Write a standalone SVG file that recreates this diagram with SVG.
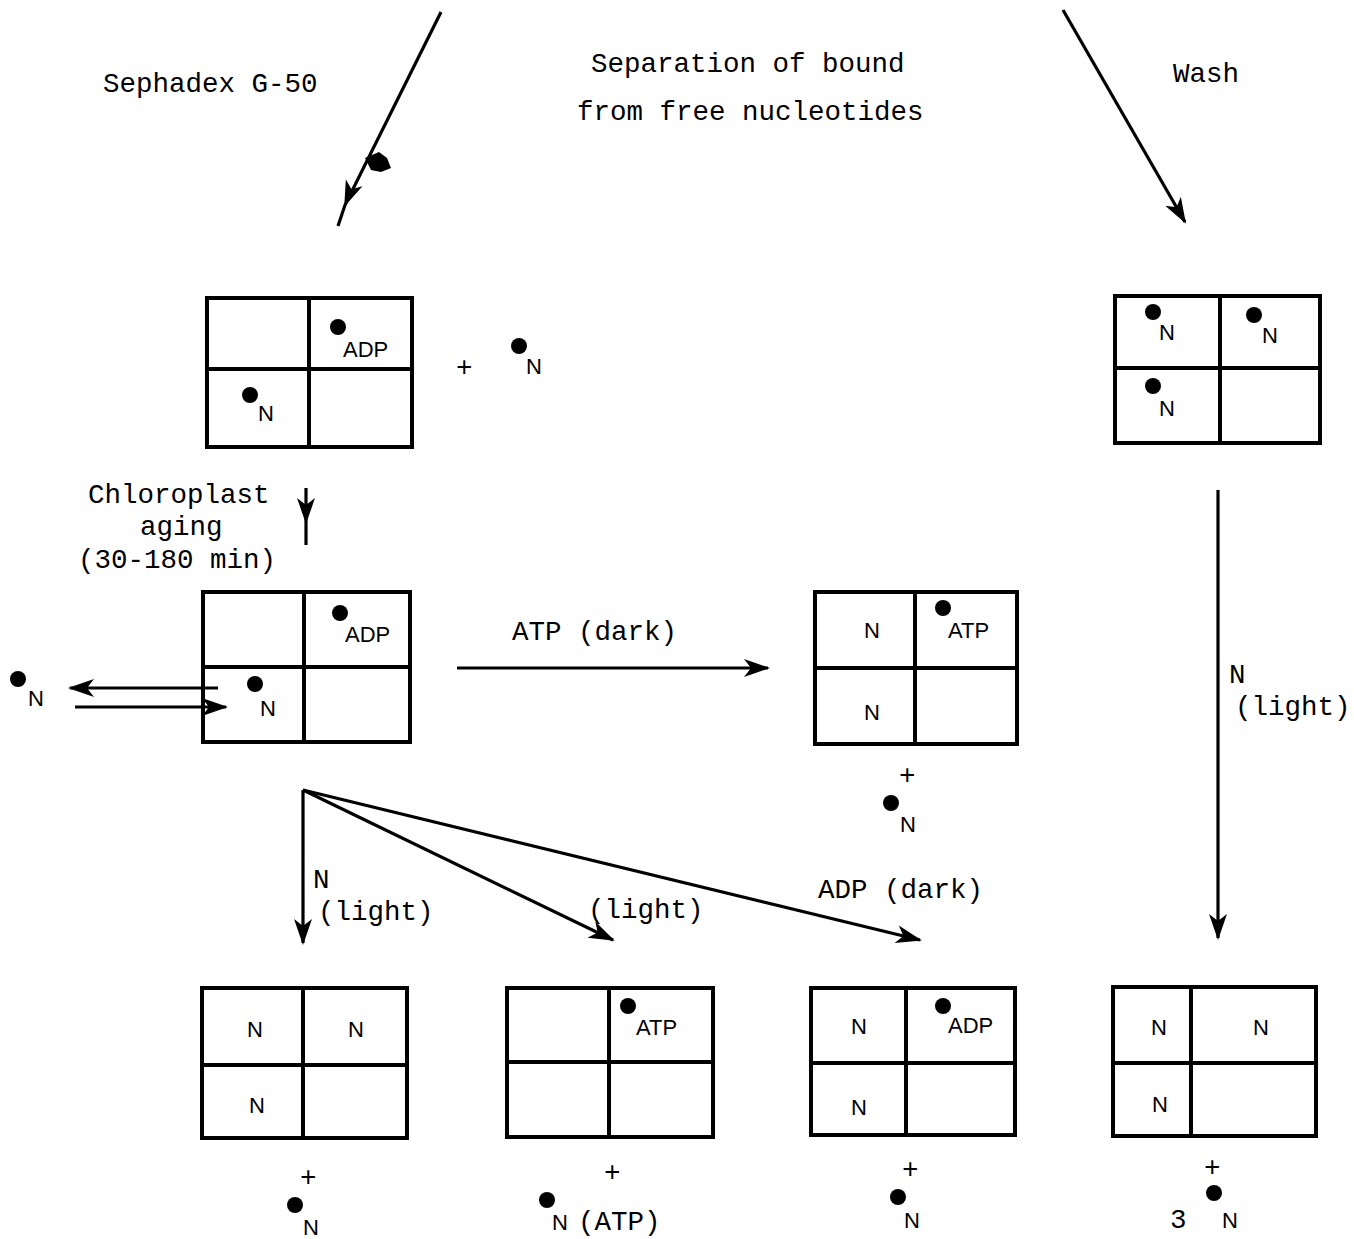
<svg xmlns="http://www.w3.org/2000/svg" width="1354" height="1239" viewBox="0 0 1354 1239">
<style>
.box{fill:none;stroke:#000;stroke-width:4}
.div{stroke:#000;stroke-width:4}
.ln{fill:none;stroke:#000;stroke-width:3.2}
.m{font-family:"Liberation Mono","DejaVu Sans Mono",monospace;font-size:27.5px;fill:#000}
.s{font-family:"Liberation Sans",Arial,sans-serif;font-size:22px;fill:#000}
.d{fill:#000}
</style>
<defs>
<marker id="ah" markerUnits="userSpaceOnUse" markerWidth="26" markerHeight="20" viewBox="0 0 26 20" refX="24" refY="10" orient="auto">
<path d="M0,1 L26,10 L0,19 L7,10 Z" fill="#000"/>
</marker>
</defs>
<rect width="1354" height="1239" fill="#fff"/>

<g id="labels">
<text class="m" x="103" y="92">Sephadex G-50</text>
<text class="m" x="591" y="72">Separation of bound</text>
<text class="m" x="577" y="120">from free nucleotides</text>
<text class="m" x="1173" y="82">Wash</text>
<text class="m" x="88" y="503">Chloroplast</text>
<text class="m" x="140" y="535">aging</text>
<text class="m" x="78" y="568">(30-180 min)</text>
<text class="m" x="512" y="640">ATP (dark)</text>
<text class="m" x="313" y="888" font-size="22">N</text>
<text class="m" x="318" y="920">(light)</text>
<text class="m" x="588" y="918">(light)</text>
<text class="m" x="818" y="898">ADP (dark)</text>
<text class="m" x="1229" y="683" font-size="18">N</text>
<text class="m" x="1235" y="715">(light)</text>
</g>

<g id="connectors">
<path class="ln" d="M441,12 L345,205 L338,226" marker-mid="url(#ah)"/>
<path d="M365,158 l14,-6 l8,6 l4,10 l-10,4 l-10,-2 z" fill="#000"/>
<path class="ln" d="M1063,10 L1185,222" marker-end="url(#ah)"/>
<path class="ln" d="M306,488 L306,522 L306,545" marker-mid="url(#ah)"/>
<path class="ln" d="M218,688 L70,688" marker-end="url(#ah)"/>
<path class="ln" d="M75,707 L226,707" marker-end="url(#ah)"/>
<path class="ln" d="M457,668 L768,668" marker-end="url(#ah)"/>
<path class="ln" d="M1218,490 L1218,938" marker-end="url(#ah)"/>
<path class="ln" d="M303,790 L303,943" marker-end="url(#ah)"/>
<path class="ln" d="M303,790 L613,940" marker-end="url(#ah)"/>
<path class="ln" d="M303,790 L920,940" marker-end="url(#ah)"/>
</g>

<g id="box1">
<rect class="box" x="207" y="298" width="205" height="149"/>
<line class="div" x1="309" y1="298" x2="309" y2="447"/>
<line class="div" x1="207" y1="369" x2="412" y2="369"/>
<circle class="d" cx="338" cy="327" r="8"/>
<text class="s" x="343" y="357">ADP</text>
<circle class="d" cx="250" cy="395" r="8"/>
<text class="s" x="258" y="421">N</text>
</g>
<g id="free1">
<text class="m" x="456" y="376">+</text>
<circle class="d" cx="519" cy="346" r="8"/>
<text class="s" x="526" y="374">N</text>
</g>

<g id="box2">
<rect class="box" x="203" y="592" width="207" height="150"/>
<line class="div" x1="304" y1="592" x2="304" y2="742"/>
<line class="div" x1="203" y1="667" x2="410" y2="667"/>
<circle class="d" cx="340" cy="613" r="8"/>
<text class="s" x="345" y="642">ADP</text>
<circle class="d" cx="255" cy="684" r="8"/>
<text class="s" x="260" y="716">N</text>
</g>
<g id="free2">
<circle class="d" cx="18" cy="679" r="8"/>
<text class="s" x="28" y="706" font-size="16">N</text>
</g>

<g id="box3">
<rect class="box" x="815" y="592" width="202" height="152"/>
<line class="div" x1="915" y1="592" x2="915" y2="744"/>
<line class="div" x1="815" y1="668" x2="1017" y2="668"/>
<text class="s" x="864" y="638">N</text>
<circle class="d" cx="943" cy="608" r="8"/>
<text class="s" x="948" y="638">ATP</text>
<text class="s" x="864" y="720">N</text>
<text class="m" x="899" y="784" font-size="24">+</text>
<circle class="d" cx="891" cy="803" r="8"/>
<text class="s" x="900" y="832">N</text>
</g>

<g id="box4">
<rect class="box" x="1115" y="296" width="205" height="147"/>
<line class="div" x1="1220" y1="296" x2="1220" y2="443"/>
<line class="div" x1="1115" y1="368" x2="1320" y2="368"/>
<circle class="d" cx="1153" cy="312" r="8"/>
<text class="s" x="1159" y="340">N</text>
<circle class="d" cx="1254" cy="315" r="8"/>
<text class="s" x="1262" y="343">N</text>
<circle class="d" cx="1153" cy="386" r="8"/>
<text class="s" x="1159" y="416">N</text>
</g>

<g id="box5">
<rect class="box" x="202" y="988" width="205" height="150"/>
<line class="div" x1="303" y1="988" x2="303" y2="1138"/>
<line class="div" x1="202" y1="1065" x2="407" y2="1065"/>
<text class="s" x="247" y="1037">N</text>
<text class="s" x="348" y="1037">N</text>
<text class="s" x="249" y="1113">N</text>
<text class="m" x="300" y="1186" font-size="24">+</text>
<circle class="d" cx="295" cy="1205" r="8"/>
<text class="s" x="303" y="1235">N</text>
</g>

<g id="box6">
<rect class="box" x="507" y="988" width="206" height="149"/>
<line class="div" x1="609" y1="988" x2="609" y2="1137"/>
<line class="div" x1="507" y1="1062" x2="713" y2="1062"/>
<circle class="d" cx="628" cy="1006" r="8"/>
<text class="s" x="636" y="1035">ATP</text>
<text class="m" x="604" y="1181" font-size="24">+</text>
<circle class="d" cx="547" cy="1200" r="8"/>
<text class="s" x="552" y="1230">N</text>
<text class="m" x="578" y="1230" font-size="24">(ATP)</text>
</g>

<g id="box7">
<rect class="box" x="811" y="988" width="204" height="147"/>
<line class="div" x1="906" y1="988" x2="906" y2="1135"/>
<line class="div" x1="811" y1="1063" x2="1015" y2="1063"/>
<text class="s" x="851" y="1034">N</text>
<circle class="d" cx="943" cy="1006" r="8"/>
<text class="s" x="948" y="1033">ADP</text>
<text class="s" x="851" y="1115">N</text>
<text class="m" x="902" y="1178" font-size="24">+</text>
<circle class="d" cx="898" cy="1197" r="8"/>
<text class="s" x="904" y="1228">N</text>
</g>

<g id="box8">
<rect class="box" x="1113" y="987" width="203" height="149"/>
<line class="div" x1="1191" y1="987" x2="1191" y2="1136"/>
<line class="div" x1="1113" y1="1063" x2="1316" y2="1063"/>
<text class="s" x="1151" y="1035">N</text>
<text class="s" x="1253" y="1035">N</text>
<text class="s" x="1152" y="1112">N</text>
<text class="m" x="1204" y="1176" font-size="24">+</text>
<circle class="d" cx="1214" cy="1193" r="8"/>
<text class="m" x="1170" y="1228" font-size="24">3</text>
<text class="s" x="1222" y="1228">N</text>
</g>
</svg>
